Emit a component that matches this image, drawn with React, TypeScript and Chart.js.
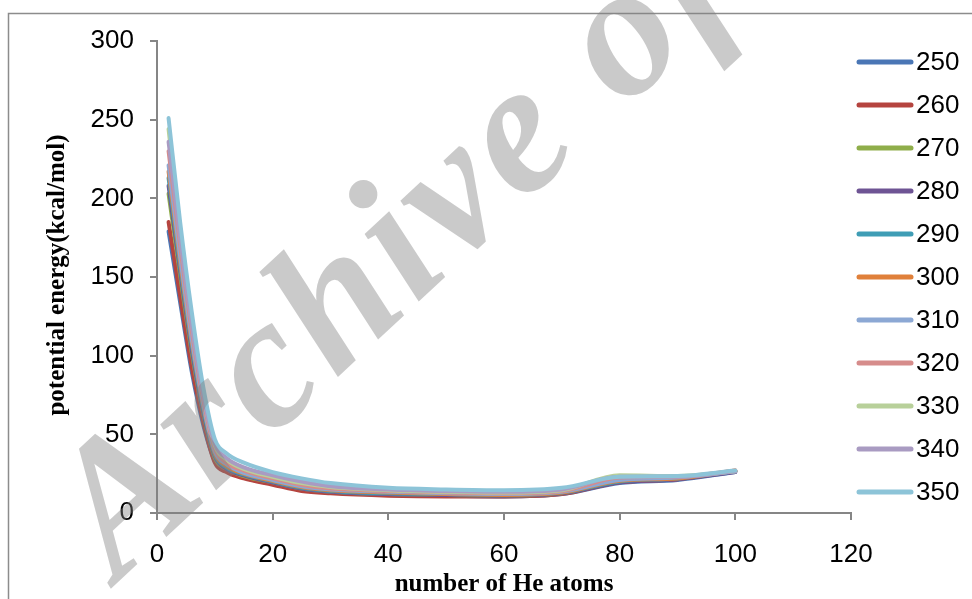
import React, { useEffect, useRef } from "react";
import { Chart, registerables } from "chart.js";

Chart.register(...registerables);

const X_VALUES = [2, 4, 6, 8, 10, 12, 15, 20, 25, 30, 40, 50, 60, 70, 80, 90, 100];
const SERIES_NAMES = ["250", "260", "270", "280", "290", "300", "310", "320", "330", "340", "350"];
const S250 = [179, 134, 90, 56, 33, 27, 22.5, 18.5, 14.5, 13, 11.5, 11, 10.5, 12, 19, 21, 26];
const S260 = [185, 138, 93, 58, 32, 26, 22, 18, 14, 12.5, 11, 10.5, 10.5, 12, 19.5, 21.5, 26.5];
const S270 = [203, 151, 102, 63, 35, 28, 23.5, 19.5, 15.5, 13.5, 12, 11.5, 11, 12.5, 20, 22, 26.5];
const S280 = [208, 154, 104, 64, 36, 28, 24, 19.5, 15.5, 13.5, 12, 11.5, 11, 12.5, 19.5, 21.5, 26];
const S290 = [213, 157, 107, 66, 37, 29, 24.5, 20, 16, 14, 12.5, 12, 11.5, 13, 20, 22, 26.5];
const S300 = [217, 160, 109, 68, 38, 30, 25, 20.5, 16.5, 14.5, 13, 12, 11.5, 13, 20.5, 22, 27];
const S310 = [221, 163, 111, 69, 39, 31, 25.5, 21, 17, 15, 13.5, 12.5, 12, 13.5, 21, 22.5, 26.5];
const S320 = [230, 170, 116, 72, 41, 32, 27, 22, 18, 15.5, 14, 13, 12.5, 14, 22.5, 23, 27];
const S330 = [244, 178, 122, 76, 43, 34, 28, 23, 19, 16.5, 14.5, 13.5, 13, 14.5, 24, 23.5, 26.5];
const S340 = [236, 175, 120, 75, 44, 35, 29, 24, 20, 17, 15, 14, 13.5, 15, 23, 23, 26.5];
const S350 = [251, 185, 128, 80, 47, 38, 32, 26, 22, 19, 16, 15, 14.5, 16, 23, 23.5, 27];
const SERIES_VALUES = [S250, S260, S270, S280, S290, S300, S310, S320, S330, S340, S350];
const COLORS = [
  "#4A76B5", "#B5443F", "#8FAE4A", "#6E5494", "#3F9DB5", "#E0803A",
  "#8CA8D4", "#D68C8B", "#B8D09A", "#A99BC2", "#8DC4D8",
];
const X_TITLE = "number of He atoms";
const Y_TITLE = "potential energy(kcal/mol)";
const WATERMARK = "Archive of SID";

const AXIS_GRAY = "#868686";
const TICK_FONT = { family: "'Liberation Sans', Arial, sans-serif", size: 26 };

const decorPlugin = {
  id: "decor",
  beforeDraw(chart: any) {
    const ctx = chart.ctx;
    ctx.save();
    ctx.fillStyle = "#ffffff";
    ctx.fillRect(0, 0, chart.width, chart.height);
    ctx.strokeStyle = "#8c8c8c";
    ctx.lineWidth = 1.5;
    ctx.beginPath();
    ctx.moveTo(8.5, chart.height + 5);
    ctx.lineTo(8.5, 13.5);
    ctx.lineTo(chart.width + 5, 13.5);
    ctx.stroke();
    ctx.restore();
  },
  afterDraw(chart: any) {
    const ctx = chart.ctx;
    const area = chart.chartArea;
    ctx.save();
    // axis titles
    ctx.fillStyle = "#000";
    ctx.font = "bold 25px 'Liberation Serif', 'Times New Roman', serif";
    ctx.textAlign = "center";
    ctx.textBaseline = "middle";
    ctx.fillText(X_TITLE, (area.left + area.right) / 2, 585);
    ctx.save();
    ctx.translate(58, 275);
    ctx.rotate(-Math.PI / 2);
    ctx.fillText(Y_TITLE, 0, 0);
    ctx.restore();
    // legend
    ctx.font = "26px 'Liberation Sans', Arial, sans-serif";
    ctx.textAlign = "left";
    ctx.textBaseline = "middle";
    SERIES_NAMES.forEach((name, i) => {
      const y = 62 + i * 43;
      ctx.strokeStyle = COLORS[i];
      ctx.lineWidth = 5;
      ctx.lineCap = "round";
      ctx.beginPath();
      ctx.moveTo(859, y);
      ctx.lineTo(911, y);
      ctx.stroke();
      ctx.fillStyle = "#000";
      ctx.fillText(name, 916, y + 1);
    });
    // watermark
    ctx.save();
    ctx.translate(118, 582);
    ctx.rotate((-43 * Math.PI) / 180);
    ctx.font = "italic bold 188px 'Liberation Serif', 'Times New Roman', serif";
    (ctx as any).letterSpacing = "5px";
    ctx.fillStyle = "rgba(128,128,128,0.42)";
    ctx.textAlign = "left";
    ctx.textBaseline = "alphabetic";
    ctx.fillText(WATERMARK, 0, 0);
    ctx.restore();
    ctx.restore();
  },
};

export default function App() {
  const ref = useRef<HTMLCanvasElement | null>(null);
  useEffect(() => {
    if (!ref.current) return;
    const datasets = SERIES_NAMES.map((name, i) => ({
      label: name,
      data: X_VALUES.map((x, j) => ({ x, y: SERIES_VALUES[i][j] })),
      borderColor: COLORS[i],
      backgroundColor: COLORS[i],
      borderWidth: 4,
      pointRadius: 0,
      pointHoverRadius: 0,
      cubicInterpolationMode: "monotone" as const,
      borderCapStyle: "round" as const,
      borderJoinStyle: "round" as const,
      fill: false,
      order: SERIES_NAMES.length - 1 - i,
    }));
    const chart = new Chart(ref.current, {
      type: "line",
      data: { datasets },
      plugins: [decorPlugin],
      options: {
        responsive: false,
        animation: false,
        events: [],
        layout: { padding: { left: 0, top: 41, right: 121, bottom: 0 } },
        plugins: { legend: { display: false }, tooltip: { enabled: false } },
        scales: {
          x: {
            type: "linear",
            min: 0,
            max: 120,
            ticks: { stepSize: 20, font: TICK_FONT, color: "#000", padding: 19, maxRotation: 0 },
            grid: { drawOnChartArea: false, drawTicks: true, tickLength: 7, color: AXIS_GRAY, lineWidth: 2 },
            border: { color: AXIS_GRAY, width: 2 },
            afterFit: (s: any) => { s.height = 86; },
          },
          y: {
            type: "linear",
            min: 0,
            max: 300,
            ticks: { stepSize: 50, font: TICK_FONT, color: "#000", padding: 16 },
            grid: { drawOnChartArea: false, drawTicks: true, tickLength: 7, color: AXIS_GRAY, lineWidth: 2 },
            border: { color: AXIS_GRAY, width: 2 },
            afterFit: (s: any) => { s.width = 157; },
          },
        },
      },
    });
    return () => chart.destroy();
  }, []);
  return (
    <div style={{ position: "absolute", left: 0, top: 0, width: 972, height: 599 }}>
      <canvas ref={ref} width={972} height={599} style={{ display: "block", width: 972, height: 599 }} />
    </div>
  );
}
